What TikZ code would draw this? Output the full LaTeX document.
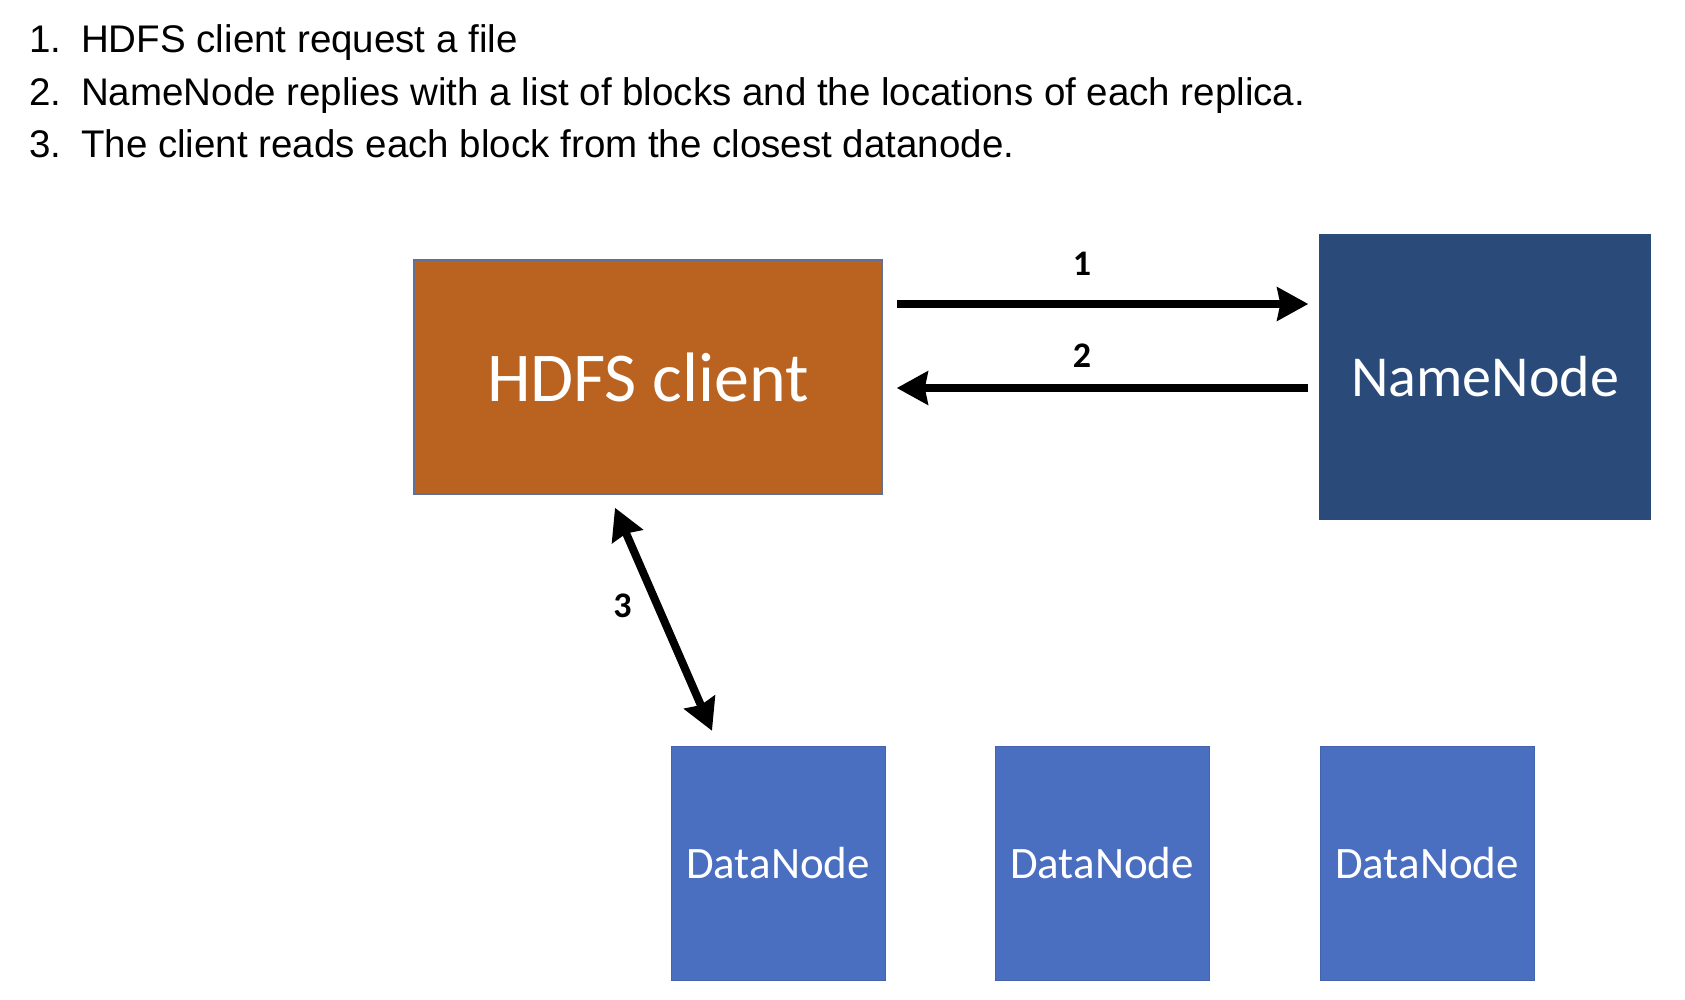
\documentclass[tikz,border=0pt]{standalone}
\usepackage{fontspec}
\setmainfont{Liberation Sans}
\newfontfamily\calibri{Carlito}
\usepackage{tikz}
\usetikzlibrary{arrows.meta, positioning, calc}
\definecolor{clientorange}{RGB}{186,98,32}
\definecolor{nameblue}{RGB}{42,75,122}
\definecolor{datablue}{RGB}{74,110,192}
\definecolor{edgegrey}{RGB}{96,112,150}

\begin{document}
\begin{tikzpicture}[x=1pt, y=-1pt, font=\fontsize{38.5}{44}\selectfont, >=Stealth]
    \tikzset{
        listnum/.style={anchor=base west, inner sep=0},
        box/.style={draw, rectangle, inner sep=0, text=white, font=\calibri},
        flow/.style={line width=8pt, -{Stealth[length=31pt, width=33pt, inset=3pt]}},
        flowboth/.style={line width=8pt, {Stealth[length=31pt, width=33pt, inset=3pt]}-{Stealth[length=31pt, width=33pt, inset=3pt]}},
        num/.style={font=\calibri\bfseries\fontsize{36}{36}\selectfont, inner sep=0},
    }
    \useasboundingbox (0,0) rectangle (1685,1000);

    % steps
    \node[listnum] (n1) at (29,53) {1.};
    \node[listnum] (t1) at (81,53) {HDFS client request a file};
    \node[listnum] (n2) at (29,106) {2.};
    \node[listnum] (t2) at (81,106) {NameNode replies with a list of blocks and the locations of each replica.};
    \node[listnum] (n3) at (29,158) {3.};
    \node[listnum] (t3) at (81,158) {The client reads each block from the closest datanode.};

    % boxes
    \node[box, fill=clientorange, draw=edgegrey, line width=1.5pt,
        minimum width=468pt, minimum height=234pt, font=\calibri\fontsize{70}{70}\selectfont]
        (client) at (648,377) {HDFS client};
    \node[box, fill=nameblue, draw=nameblue,
        minimum width=331pt, minimum height=285pt, font=\calibri\fontsize{58}{58}\selectfont]
        (name) at (1485,377) {NameNode};
    \node[box, fill=datablue, draw=datablue!90!black,
        minimum width=214pt, minimum height=234pt, font=\calibri\fontsize{45}{45}\selectfont]
        (data1) at (778,863) {DataNode};
    \node[box, fill=datablue, draw=datablue!90!black,
        minimum width=214pt, minimum height=234pt, font=\calibri\fontsize{45}{45}\selectfont]
        (data2) at (1102,863) {DataNode};
    \node[box, fill=datablue, draw=datablue!90!black,
        minimum width=214pt, minimum height=234pt, font=\calibri\fontsize{45}{45}\selectfont]
        (data3) at (1427,863) {DataNode};

    % messages
    \draw[flow] ([xshift=14pt,yshift=73pt]client.east) -- ([xshift=-11pt,yshift=73pt]client.east -| name.west)
        node[num, pos=0.45, above=24pt]{1};
    \draw[flow] ([xshift=-11pt,yshift=-11pt]client.east -| name.west) -- ([xshift=14pt,yshift=-11pt]client.east)
        node[num, pos=0.55, above=17pt]{2};
    \draw[flowboth] ([xshift=-33pt,yshift=-13pt]client.south) -- ([xshift=-66pt,yshift=15pt]data1.north)
        node[num, pos=0.44, left=22pt]{3};
\end{tikzpicture}
\end{document}
